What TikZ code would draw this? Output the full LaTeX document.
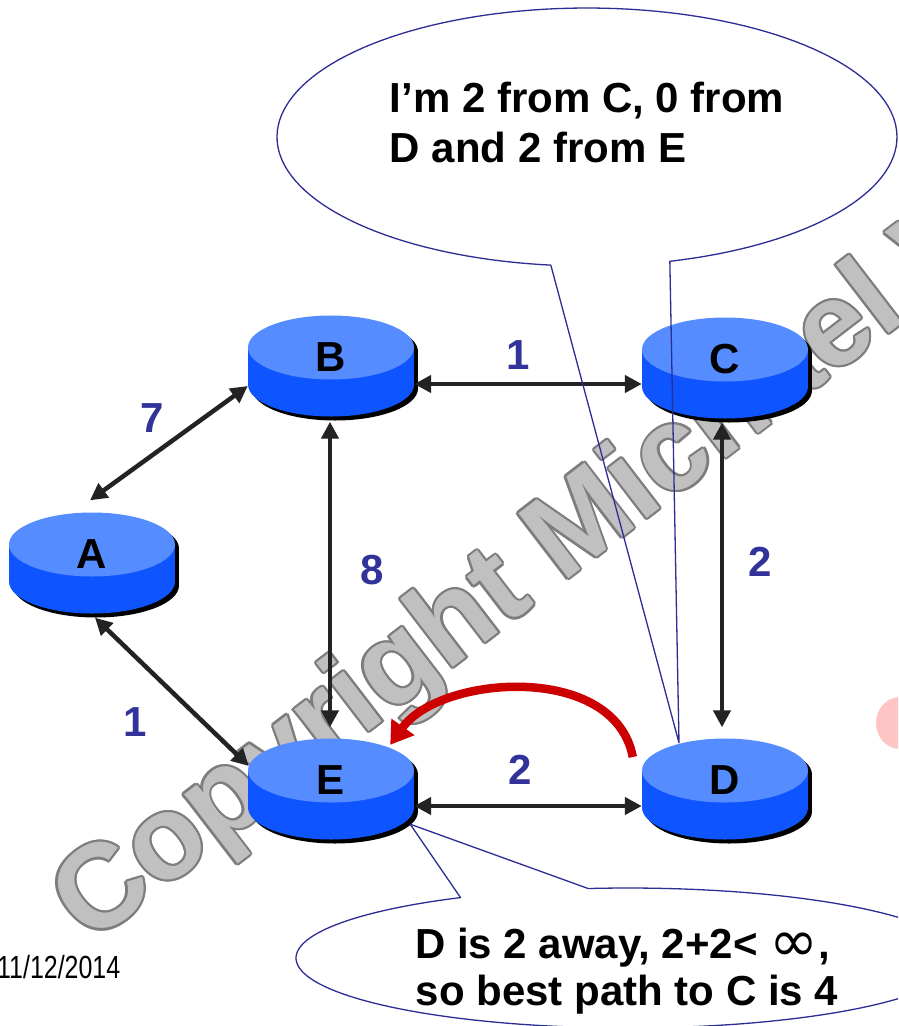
\documentclass[tikz,border=0pt]{standalone}
\usepackage{fontspec}
\setmainfont{Liberation Sans}
\newfontfamily\dvsans{DejaVu Sans}
\usetikzlibrary{arrows.meta,calc}
\definecolor{cyltop}{RGB}{85,140,255}
\definecolor{cylside}{RGB}{15,85,255}
\definecolor{linkgray}{RGB}{35,35,35}
\definecolor{numblue}{RGB}{50,50,155}
\definecolor{callblue}{RGB}{45,45,150}
\definecolor{redarr}{RGB}{204,0,0}
\definecolor{wmfill}{RGB}{192,192,192}
\definecolor{wmline}{RGB}{125,125,125}
\definecolor{pinkblob}{RGB}{255,196,196}
\newcommand\drawcyl[1]{%
  \begin{scope}[shift={(#1)}]
    \fill[black] (-79,-14.5) rectangle (87,22.5);
    \fill[black] (4,22.5) ellipse [x radius=83, y radius=32];
    \fill[black] (4,-14.5) ellipse [x radius=83, y radius=32];
    \fill[cylside] (-83,-18.5) rectangle (83,18.5);
    \fill[cylside] (0,18.5) ellipse [x radius=83, y radius=32];
    \fill[cyltop] (0,-18.5) ellipse [x radius=83, y radius=32];
  \end{scope}}
\tikzset{
  router/.style={minimum width=166pt, minimum height=101pt, inner sep=0pt,
    text height=30pt, text depth=20pt, text=black,
    font=\bfseries\fontsize{42}{50}\selectfont},
  numlbl/.style={inner sep=0pt, text=numblue, font=\bfseries\fontsize{42}{50}\selectfont},
  link/.style={draw=linkgray, line width=4.5pt,
    arrows={Triangle[length=17pt,width=17pt]-Triangle[length=17pt,width=17pt]}},
  redarrow/.style={draw=redarr, line width=8.5pt, arrows={-Triangle[length=22pt,width=27pt]}},
  callout/.style={draw=callblue, line width=1.3pt, line join=round},
  calltext/.style={inner sep=0pt, anchor=base west, text=black,
    font=\bfseries\fontsize{42}{50}\selectfont},
  wm/.style={inner sep=0pt, anchor=base west, rotate=37.5,
    font=\bfseries\fontsize{119}{120}\selectfont},
  datetext/.style={inner sep=0pt, anchor=base west, text=black,
    font=\fontsize{32}{36}\selectfont}
}
\begin{document}
\begin{tikzpicture}[x=1pt,y=-1pt]
\useasboundingbox (0,0) rectangle (898,1026);
\fill[white] (0,0) rectangle (898,1026);
\clip (0,0) rectangle (898,1026);
% router centres
\coordinate (cA) at (92,563);
\coordinate (cB) at (331,366);
\coordinate (cC) at (725,368);
\coordinate (cD) at (725,789);
\coordinate (cE) at (331,789);
% pink blob at the edge
\fill[pinkblob] (900,723) ellipse [x radius=24, y radius=26];
% watermark
\coordinate (wm0) at (90,946);
\foreach \ang in {0,30,...,330}{
  \node[wm,text=wmline] (wmc\ang) at ($(wm0)+(\ang:2.2pt)$) {Copyright Michael Welzl};
}
\node[wm,text=wmfill] (wmark) at (wm0) {Copyright Michael Welzl};
% cylinders
\drawcyl{cA}
\drawcyl{cB}
\drawcyl{cC}
\drawcyl{cD}
\drawcyl{cE}
% routers
\node[router] (A) at (cA) {A};
\node[router] (B) at (cB) {B};
\node[router] (C) at (cC) {C};
\node[router] (D) at (cD) {D};
\node[router] (E) at (cE) {E};
% links
\draw[link] ($(A.north)+(-2,-12)$) -- ($(B.west)+(0,20)$);
\draw[link] ($(B.east)+(0,18)$) -- ($(C.west)+(0,16)$);
\draw[link] ($(A.south)+(3,4)$) -- ($(E.west)+(1,-23)$);
\draw[link] ($(B.south)+(-1,5)$) -- ($(E.north)+(-1,-11)$);
\draw[link] ($(C.south)+(-3,4)$) -- ($(D.north)+(-3,-11)$);
\draw[link] ($(E.east)+(0,17)$) -- ($(D.west)+(0,17)$);
% link weights
\node[numlbl] (wAB) at (152,418) {7};
\node[numlbl] (wBC) at (518,355) {1};
\node[numlbl] (wBE) at (372,570) {8};
\node[numlbl] (wCD) at (760,562) {2};
\node[numlbl] (wAE) at (135,722) {1};
\node[numlbl] (wED) at (520,770) {2};
% red arrow D -> E
\coordinate (rs) at ($(D.west)+(-9,-32)$);
\coordinate (re) at ($(E.north east)+(-24,6.5)$);
\draw[redarrow] (rs) .. controls +(-18,-95) and +(50,-70) .. (re);
% callouts
\coordinate (tip1) at ($(D.north)+(-46,4.5)$);
\coordinate (tip2) at ($(E.south east)+(-4,-15.5)$);
\draw[callout] plot[domain=-74.5:263.3,samples=150,variable=\a]
  ({587+310*cos(\a)},{137-129*sin(\a)}) -- (tip1) -- cycle;
\draw[callout] plot[domain=120.3:456.9,samples=150,variable=\a]
  ({628+332*cos(\a)},{958-70*sin(\a)}) -- (tip2) -- cycle;
% callout texts
\node[calltext] (t1a) at (389.5,112) {I’m 2 from C, 0 from};
\node[calltext] (t1b) at (389.5,162) {D and 2 from E};
\node[calltext] (t2a) at (415,958) {D is 2 away, 2+2< {\dvsans\mdseries\raisebox{-3pt}{\scalebox{1.4}{∞}}},};
\node[calltext] (t2b) at (415.5,1005) {so best path to C is 4};
% date
\node[datetext] (date) at (-3,978) {\scalebox{0.78}[1]{11/12/2014}};
\end{tikzpicture}
\end{document}
